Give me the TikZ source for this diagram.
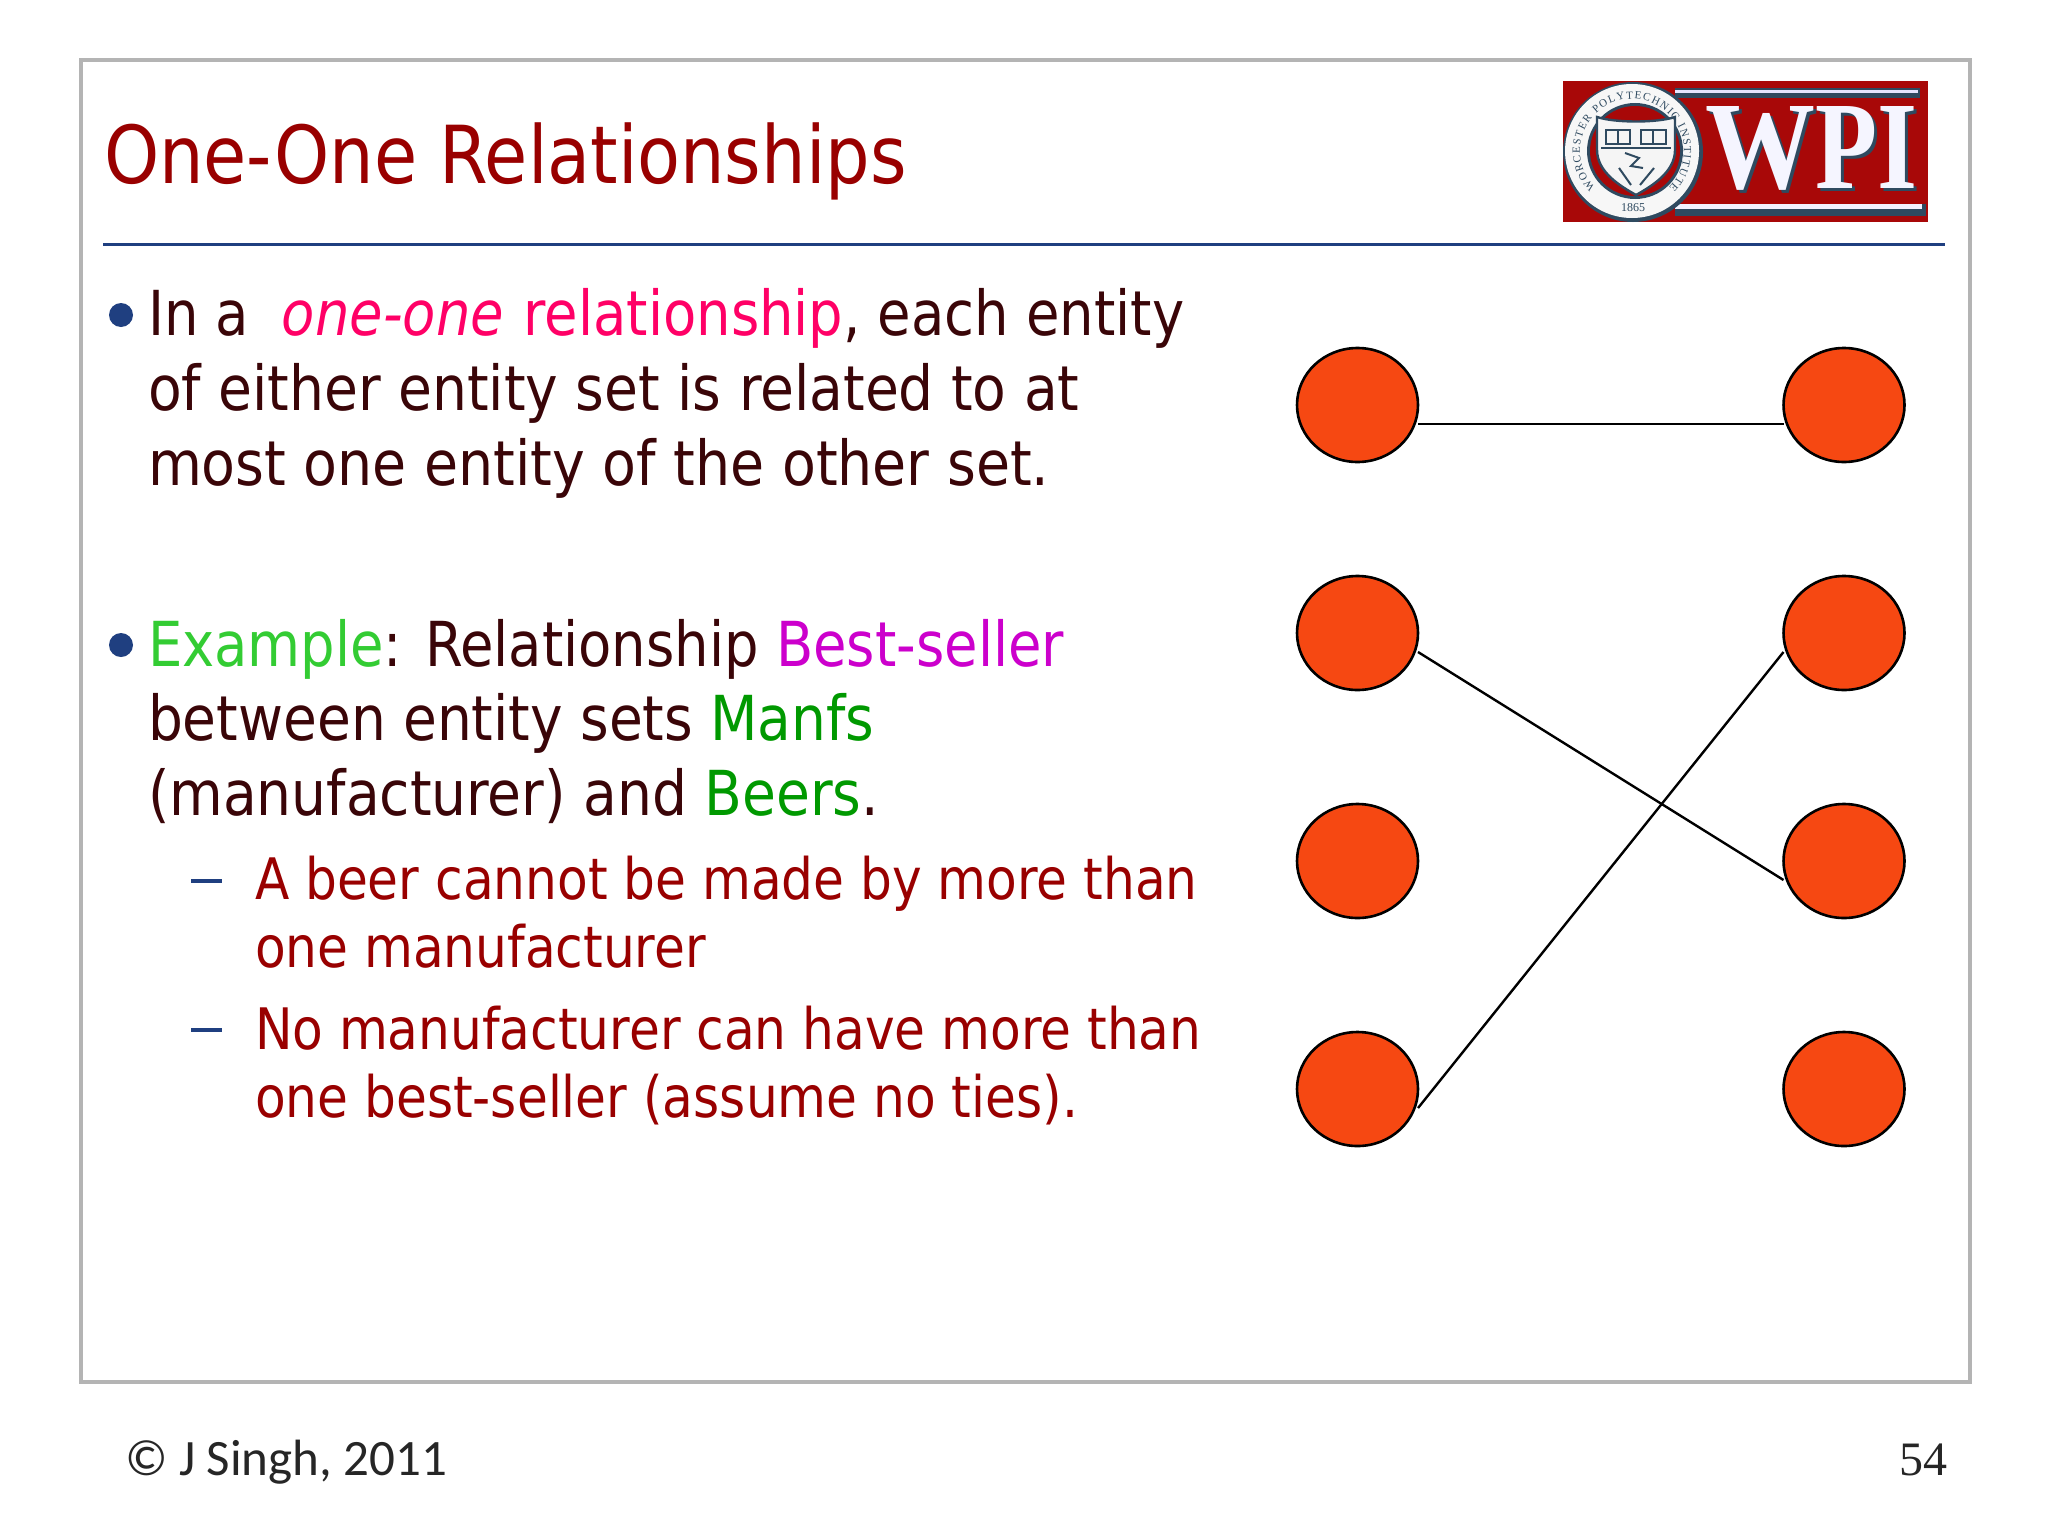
\documentclass[tikz,border=0pt]{standalone}
\usepackage{fontspec}
\usetikzlibrary{shapes.geometric,decorations.text}
\setmainfont[FakeStretch=0.975]{DejaVu Sans Condensed}
\newfontfamily\serifface{Liberation Serif}
\newfontfamily\footface{Carlito}
\definecolor{framegray}{HTML}{B4B4B4}
\definecolor{rulenavy}{HTML}{1F3F80}
\definecolor{titlered}{HTML}{990000}
\definecolor{bodydark}{HTML}{3A0508}
\definecolor{hotpink}{HTML}{FF0066}
\definecolor{lightgreen}{HTML}{33CC33}
\definecolor{deepgreen}{HTML}{009900}
\definecolor{magent}{HTML}{CC00CC}
\definecolor{dotorange}{HTML}{F64812}
\definecolor{logored}{HTML}{A80808}
\definecolor{logoslate}{HTML}{2F4A60}
\newcommand{\wpiword}{\resizebox{55pt}{41pt}{W}\resizebox{31pt}{41pt}{P}\resizebox{20pt}{41pt}{I}}
\tikzset{
  txt/.style={anchor=base west,inner sep=0pt,outer sep=0pt},
  titletxt/.style={txt,text=titlered,font=\fontsize{40}{41}\selectfont},
  bodytxt/.style={txt,text=bodydark,font=\fontsize{31}{32}\selectfont},
  subtxt/.style={txt,text=titlered,font=\fontsize{28.6}{29}\selectfont},
  dotnode/.style={ellipse,draw=black,fill=dotorange,line width=1.3pt,minimum width=60.5pt,minimum height=57pt,inner sep=0pt,outer sep=0pt},
  link/.style={draw=black,line width=1.2pt},
  bul/.style={circle,fill=rulenavy,minimum size=12pt,inner sep=0pt},
  dashmark/.style={rectangle,fill=rulenavy,minimum width=15.5pt,minimum height=1.6pt,inner sep=0pt},
}
\begin{document}
\begin{tikzpicture}[x=0.5pt,y=-0.5pt]
\useasboundingbox (0,0) rectangle (2048,1536);
\fill[white] (0,0) rectangle (2048,1536);
\draw[framegray,line width=2pt] (81,60) rectangle (1970,1382);
\draw[rulenavy,line width=1.5pt] (103,244) -- (1945,244);
% logo
\fill[logored] (1563,81) rectangle (1928,222);
\fill[logoslate] (1675,88) rectangle (1920,98);
\fill[white!90!blue] (1675,90) rectangle (1918,93);
\fill[logoslate] (1675,204) rectangle (1926,216);
\fill[white!95!blue] (1675,204) rectangle (1922,209);
\node[txt,text=logoslate,font=\serifface\bfseries] (wpishadow) at (1708,191) {\wpiword};
\node[txt,text=white!96!blue,font=\serifface\bfseries] (wpi) at (1705,188) {\wpiword};
\fill[logoslate] (1633,152) circle[radius=70];
\fill[white!94!gray] (1632,151) circle[radius=67];
\fill[logoslate] (1635,151) circle[radius=48];
\fill[logored] (1635,151) circle[radius=45];
\filldraw[fill=white!92!gray,draw=logoslate,line width=1.2pt]
  (1597,117) .. controls (1615,123) and (1657,123) .. (1675,117)
  -- (1675,150) .. controls (1675,172) and (1652,186) .. (1636,195)
  .. controls (1620,186) and (1597,172) .. (1597,150) -- cycle;
\draw[logoslate,line width=0.6pt] (1601,148) -- (1671,148);
\draw[logoslate,line width=0.7pt] (1606,144) rectangle (1630,130) (1618,144) -- (1618,130) (1641,144) rectangle (1666,130) (1653,144) -- (1653,130);
\draw[logoslate,line width=1pt] (1625,153) -- (1639,158) -- (1631,166) -- (1643,168) (1631,185) -- (1619,168) (1640,185) -- (1654,168);
\path[postaction={decorate,decoration={text along path,text align={fit to path},
  text={|\fontsize{5.5}{6}\serifface\color{logoslate}|WORCESTER POLYTECHNIC INSTITUTE}}}]
  (1632,151) ++(135:52) arc[start angle=135,end angle=405,radius=52];
\node[font=\fontsize{6}{6}\serifface,text=logoslate,inner sep=0pt] (yr) at (1633,208) {1865};
% title
\node[titletxt] (title) at (104,183) {One-One Relationships};
% body
\node[bul] (b1) at (121,315) {};
\node[bodytxt] (l1) at (148,335) {In a\hspace{7.8pt} \textit{\color{hotpink}one-one}\hspace{1.3pt} {\color{hotpink}relationship}, each entity};
\node[bodytxt] (l2) at (148,410) {\scalebox{1.013}[1]{of either entity set is related to at}};
\node[bodytxt] (l3) at (148,485) {\scalebox{1.018}[1]{most one entity of the other set.}};
\node[bul] (b2) at (121,645) {};
\node[bodytxt] (l4) at (148,666) {{\color{lightgreen}Example}: Relationship {\color{magent}Best-seller}};
\node[bodytxt] (l5) at (148,740) {\scalebox{1.011}[1]{between entity sets {\color{deepgreen}Manfs}}};
\node[bodytxt] (l6) at (148,815) {\scalebox{1.013}[1]{(manufacturer) and {\color{deepgreen}Beers}.}};
\node[dashmark] (d1) at (206,881) {};
\node[subtxt] (s1) at (255,899) {A beer cannot be made by more than};
\node[subtxt] (s2) at (255,967) {one manufacturer};
\node[dashmark] (d2) at (206,1030) {};
\node[subtxt] (s3) at (255,1049) {No manufacturer can have more than};
\node[subtxt] (s4) at (255,1117) {one best-seller (assume no ties).};
% dots
\node[dotnode] (a1) at (1357.5,405) {};
\node[dotnode] (a2) at (1357.5,633) {};
\node[dotnode] (a3) at (1357.5,861) {};
\node[dotnode] (a4) at (1357.5,1089) {};
\node[dotnode] (c1) at (1844,405) {};
\node[dotnode] (c2) at (1844,633) {};
\node[dotnode] (c3) at (1844,861) {};
\node[dotnode] (c4) at (1844,1089) {};
\draw[link] ([yshift=-9.5pt]a1.east) -- ([yshift=-9.5pt]c1.west);
\draw[link] ([yshift=-9.5pt]a2.east) -- ([yshift=-9.5pt]c3.west);
\draw[link] ([yshift=-9.5pt]a4.east) -- ([yshift=-9.5pt]c2.west);
% footer
\node[txt,font=\footface\fontsize{25.5}{26}\selectfont,text=black!85] (foot) at (125,1475) {© J Singh, 2011};
\node[txt,font=\serifface\fontsize{24}{25}\selectfont,text=black!85] (page) at (1899,1475) {54};
\end{tikzpicture}
\end{document}
